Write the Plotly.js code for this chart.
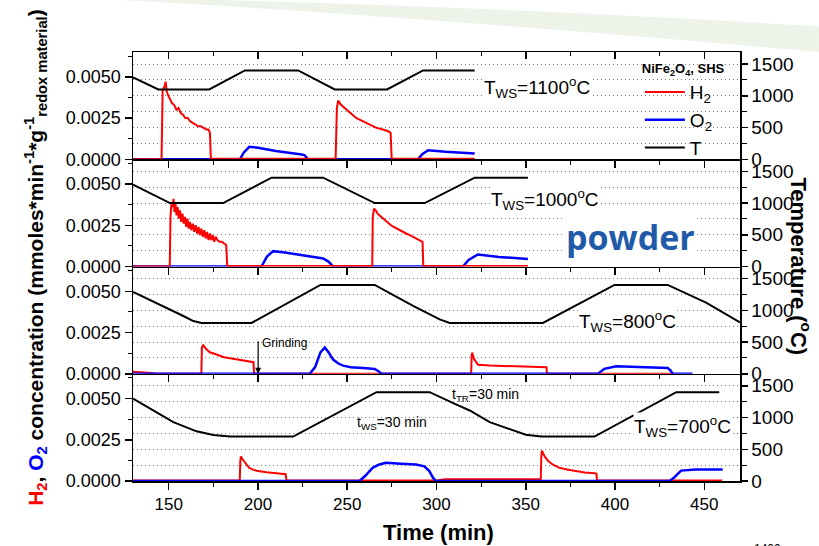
<!DOCTYPE html>
<html><head><meta charset="utf-8">
<script src="https://cdn.plot.ly/plotly-3.0.1.min.js"></script>
<style>html,body{margin:0;padding:0;background:#fff}</style>
</head><body>
<div id="chart" style="width:819px;height:546px"></div>
<script>
// ---------- data (time in min, concentration in mmol/min/g, temperature in °C) ----------
const panelLabels = ['T<sub>WS</sub>=1100<sup>o</sup>C','T<sub>WS</sub>=1000<sup>o</sup>C','T<sub>WS</sub>=800<sup>o</sup>C','T<sub>WS</sub>=700<sup>o</sup>C'];
const concTickText = ['0.0000','0.0025','0.0050'];

// Panel 1: T_WS = 1100 °C
const p1_T_t = [130, 144.2, 172.7, 192.7, 222.5, 243, 272.3, 292.5, 321.4];
const p1_T   = [1290, 1100, 1100, 1400, 1400, 1100, 1100, 1400, 1400];
const p1_H2_t = [130, 146.0, 146.6, 147.6, 148.3, 148.9, 149.6, 150.7, 151.8, 153.0, 154.3, 155.5, 156.8, 158.0, 159.3, 160.6, 162.0, 163.5, 165.0, 166.5, 168.0, 169.5, 171.0, 172.3, 173.1, 173.6, 243.5, 244.2, 244.9, 246.5, 248.5, 251.4, 255.0, 258.9, 262.5, 266.4, 270.0, 272.9, 274.3, 274.9, 321.4];
const p1_H2   = [0, 0, 0.0042, 0.0044, 0.0047, 0.0041, 0.0039, 0.0036, 0.0034, 0.0033, 0.0030, 0.0031, 0.0028, 0.0027, 0.0025, 0.0025, 0.0023, 0.0022, 0.0021, 0.0020, 0.0020, 0.0019, 0.0018, 0.0018, 0.0016, 0.00003, 0.00003, 0.0031, 0.00355, 0.0033, 0.0031, 0.0028, 0.0025, 0.0023, 0.0021, 0.0019, 0.0018, 0.0017, 0.0016, 0.00003, 0.00003];
const p1_O2_t = [130, 189.9, 192, 195.1, 200, 210, 223.5, 226, 228.1, 289.7, 292, 295.3, 305, 321.4];
const p1_O2   = [0, 0, 0.0004, 0.00075, 0.0007, 0.0005, 0.0003, 0.00025, 0, 0, 0.0003, 0.00055, 0.00045, 0.00035];

// Panel 2: T_WS = 1000 °C
const p2_T_t = [130, 150.7, 180.5, 207.6, 236.5, 265.4, 293.4, 321.4, 351.2];
const p2_T   = [1290, 1000, 1000, 1400, 1400, 1000, 1000, 1400, 1400];
const p2_H2_t = [130, 150.6, 151.0, 151.6, 152.2, 152.7, 153.2, 153.8, 154.4, 155.0, 155.6, 156.3, 157.0, 157.7, 158.4, 159.1, 159.8, 160.5, 161.2, 161.9, 162.7, 163.5, 164.3, 165.1, 165.9, 166.7, 167.5, 168.3, 169.1, 169.9, 170.7, 171.5, 172.3, 173.1, 173.9, 174.7, 175.5, 176.3, 177.3, 178.5, 179.7, 181.0, 182.2, 182.8, 264.0, 264.3, 265.0, 266.0, 267.0, 268.0, 269.0, 270.1, 271.5, 273.0, 274.5, 276.0, 277.6, 279.5, 281.5, 283.0, 285.0, 287.0, 289.0, 290.6, 292.2, 292.6, 351.2];
const p2_H2   = [0, 0, 0.0030, 0.0039, 0.0036, 0.0041, 0.0033, 0.0038, 0.0031, 0.0036, 0.0029, 0.0034, 0.0027, 0.0032, 0.0026, 0.0030, 0.0024, 0.0029, 0.0023, 0.0027, 0.0022, 0.0026, 0.0021, 0.0025, 0.0020, 0.0024, 0.0019, 0.0023, 0.0018, 0.0022, 0.0017, 0.0021, 0.0016, 0.0020, 0.0016, 0.0019, 0.0015, 0.0018, 0.0016, 0.0015, 0.0015, 0.0014, 0.0013, 0.00003, 0.00003, 0.0030, 0.0035, 0.0034, 0.0032, 0.0031, 0.0030, 0.0029, 0.0028, 0.0026, 0.0025, 0.0024, 0.0023, 0.0022, 0.0021, 0.0020, 0.0019, 0.0018, 0.0017, 0.0016, 0.0015, 0.00003, 0.00003];
const p2_O2_t = [130, 202, 205, 208.5, 215, 225, 236.5, 239.5, 242.1, 314.8, 318, 323.2, 335, 351.2];
const p2_O2   = [0, 0, 0.0006, 0.00093, 0.00085, 0.0007, 0.00049, 0.0003, 0, 0, 0.0004, 0.00073, 0.00058, 0.00045];

// Panel 3: T_WS = 800 °C
const p3_T_t = [130, 147, 158.2, 163.8, 168.4, 196.4, 235, 265.4, 286.9, 301.8, 307.4, 359.6, 399.7, 429.5, 451, 470];
const p3_T   = [1290, 1068, 910, 830, 800, 800, 1400, 1400, 1068, 857, 800, 800, 1400, 1400, 1122, 810];
const p3_H2_t = [130, 135, 140, 143, 168.3, 168.6, 169.3, 171, 173, 176.8, 181, 186.1, 191, 196.4, 197.5, 197.8, 319.4, 319.7, 320, 321, 323.2, 330, 340, 350, 360.5, 361.6, 361.9, 433];
const p3_H2   = [0.00012, 0.0001, 0.00005, 0, 0, 0.0016, 0.00173, 0.0015, 0.0013, 0.00117, 0.001, 0.00091, 0.0008, 0.0007, 0.0007, 0, 0, 0.0011, 0.00128, 0.0009, 0.00055, 0.0005, 0.00047, 0.00043, 0.00039, 0.00039, 0, 0];
const p3_O2_t = [130, 229, 232, 235, 237.4, 239.5, 242.1, 245, 247.7, 252, 258.9, 265.4, 267.5, 269.2, 390.4, 394, 400.7, 415, 429.5, 431, 432.3, 443.4];
const p3_O2   = [0, 0, 0.0004, 0.0013, 0.00159, 0.0013, 0.00086, 0.00062, 0.00049, 0.0004, 0.00035, 0.00029, 0.00015, 0, 0, 0.0003, 0.00045, 0.0004, 0.00035, 0.0002, 0, 0];

// Panel 4: T_WS = 700 °C
const p4_T_t = [130, 140, 152.6, 165.6, 175, 184.3, 219.7, 266.4, 296.2, 310, 318.6, 329.8, 342.8, 350, 358.7, 388.5, 434.3, 458.4];
const p4_T   = [1298, 1134, 927, 783, 725, 700, 700, 1400, 1400, 1220, 1111, 927, 793, 730, 700, 700, 1400, 1400];
const p4_H2_t = [130, 189.8, 190.1, 190.4, 191.5, 192.7, 195, 197.3, 200, 204.8, 209, 213.2, 215.5, 216, 300, 305, 340, 358.4, 358.7, 359, 360.5, 362.4, 365, 368.9, 373, 378.3, 383, 388.5, 389.6, 389.9, 460];
const p4_H2   = [0.00003, 0.00003, 0.0012, 0.00149, 0.0013, 0.0011, 0.0008, 0.00069, 0.0006, 0.00053, 0.00048, 0.00043, 0.00041, 0.00003, 0.00003, 0.0001, 0.0001, 0.0001, 0.0015, 0.00184, 0.0015, 0.00123, 0.001, 0.0008, 0.0007, 0.00059, 0.00052, 0.00047, 0.00045, 0.00003, 0.00003];
const p4_O2_t = [130, 256.8, 260, 264.2, 268, 271.7, 280, 288.5, 293.2, 296, 298, 299.7, 430.5, 433, 437, 445, 460.3];
const p4_O2   = [0, 0, 0.0003, 0.0008, 0.001, 0.0011, 0.00105, 0.001, 0.00089, 0.0006, 0.0002, 0, 0, 0.0002, 0.00063, 0.00069, 0.00069];

// ---------- build ----------
const panels = [
  {Tt:p1_T_t, T:p1_T, Ht:p1_H2_t, H:p1_H2, Ot:p1_O2_t, O:p1_O2, redTop:true},
  {Tt:p2_T_t, T:p2_T, Ht:p2_H2_t, H:p2_H2, Ot:p2_O2_t, O:p2_O2, redTop:true},
  {Tt:p3_T_t, T:p3_T, Ht:p3_H2_t, H:p3_H2, Ot:p3_O2_t, O:p3_O2, redTop:false},
  {Tt:p4_T_t, T:p4_T, Ht:p4_H2_t, H:p4_H2, Ot:p4_O2_t, O:p4_O2, redTop:false}
];
const F = 'Liberation Sans, Arial, sans-serif';
const GRID = '#7a7a7a';
const traces = [];
const layout = {
  width:819, height:546,
  margin:{l:133, r:79, t:52, b:65},
  paper_bgcolor:'#ffffff', plot_bgcolor:'#ffffff',
  font:{family:F, color:'#000', size:16},
  showlegend:true,
  legend:{x:0.835, y:0.99, xanchor:'left', yanchor:'top', bgcolor:'rgba(0,0,0,0)',
          font:{family:F, size:19, color:'#000'}, tracegroupgap:0, itemwidth:40,
          title:{text:'<b>NiFe<sub>2</sub>O<sub>4</sub>, SHS</b>', font:{family:F, size:13}, side:'top'}},
  shapes:[
    {type:'path', xref:'paper', yref:'paper', layer:'below',
     path:'M -0.02,1.121 Q 0.45,1.085 1.13,1.0 L 1.13,1.06 Q 0.6,1.105 0.15,1.121 Z',
     fillcolor:'rgba(200,214,186,0.3)', line:{width:0}}
  ],
  annotations:[]
};

panels.forEach((p, i) => {
  const n = i + 1;
  const xs = n === 1 ? 'x' : 'x' + n;
  const ys = n === 1 ? 'y' : 'y' + n;
  const yr = 'y' + (n + 4);
  const legend = n === 1;
  const h2 = {x:p.Ht, y:p.H, xaxis:xs, yaxis:ys, type:'scatter', mode:'lines', name:'H<sub>2</sub>',
              line:{color:'#ff0000', width:2}, showlegend:legend, legendrank:1};
  const o2 = {x:p.Ot, y:p.O, xaxis:xs, yaxis:ys, type:'scatter', mode:'lines', name:'O<sub>2</sub>',
              line:{color:'#0000ff', width:2.5}, showlegend:legend, legendrank:2};
  if (p.redTop) { traces.push(o2, h2); } else { traces.push(h2, o2); }
  traces.push({x:p.Tt, y:p.T, xaxis:xs, yaxis:yr, type:'scatter', mode:'lines', name:'T',
               line:{color:'#000', width:2}, showlegend:legend, legendrank:3});

  const dom = [(4 - n) * 0.25, (5 - n) * 0.25];
  layout[n === 1 ? 'xaxis' : 'xaxis' + n] = {
    domain:[0,1], anchor:ys, range:[130,470], tickmode:'linear', tick0:150, dtick:50,
    ticks:'outside', ticklen:7, tickwidth:1.5, tickcolor:'#000',
    minor:{dtick:25, ticks:'outside', ticklen:4, tickwidth:1, tickcolor:'#000'},
    showline:true, linewidth:1.5, linecolor:'#000', showgrid:false, zeroline:false,
    showticklabels:n === 4, tickfont:{family:F, size:17}
  };
  layout[n === 1 ? 'yaxis' : 'yaxis' + n] = {
    domain:dom, anchor:xs, range:[0,0.0065], tickmode:'array', tickvals:[0,0.0025,0.005], ticktext:concTickText,
    ticks:'outside', ticklen:7, tickwidth:1.5, tickcolor:'#000',
    minor:{dtick:0.00125, ticks:'outside', ticklen:4, tickwidth:1, tickcolor:'#000'},
    showline:true, linewidth:1.5, linecolor:'#000', showgrid:false, zeroline:false,
    tickfont:{family:F, size:18}
  };
  layout['yaxis' + (n + 4)] = {
    overlaying:ys, side:'right', anchor:xs, range:[0,1690], tickmode:'linear', tick0:0, dtick:500,
    ticks:'outside', ticklen:6, tickwidth:1.5, tickcolor:'#000',
    showgrid:true, gridcolor:GRID, griddash:'1px,3px', gridwidth:1,
    minor:{dtick:250, ticks:'outside', ticklen:5, tickwidth:1, tickcolor:'#000', showgrid:true, gridcolor:GRID, griddash:'1px,3px', gridwidth:1},
    showline:true, linewidth:1.5, linecolor:'#000', zeroline:false,
    tickfont:{family:F, size:19}
  };
});

// top frame of the first panel (ticks pointing in)
layout.xaxis5 = {overlaying:'x', side:'top', anchor:'y', range:[130,470], tickmode:'linear', tick0:150, dtick:50,
  ticks:'inside', ticklen:7, tickwidth:1.5, tickcolor:'#000',
  minor:{dtick:25, ticks:'inside', ticklen:4, tickwidth:1, tickcolor:'#000'},
  showline:true, linewidth:1.5, linecolor:'#000', showgrid:false, zeroline:false, showticklabels:false};
traces.push({x:[], y:[], xaxis:'x5', yaxis:'y', type:'scatter', mode:'lines', showlegend:false, hoverinfo:'skip'});

const A = layout.annotations;
// axis titles
A.push({xref:'paper', yref:'paper', x:-0.160, y:0.52, textangle:-90, showarrow:false, xanchor:'center', yanchor:'middle',
  text:'<b><span style="color:#ff0000">H<sub>2</sub></span>, <span style="color:#0000ff">O<sub>2</sub></span> concentration (mmoles*min<sup>-1</sup>*g<sup>-1</sup><sub>redox material</sub>)</b>',
  font:{family:F, size:21, color:'#000'}});
A.push({xref:'paper', yref:'paper', x:1.1005, y:0.50, textangle:90, showarrow:false, xanchor:'center', yanchor:'middle',
  text:'<b>Temperature (<sup>o</sup>C)</b>', font:{family:F, size:22, color:'#000'}});
A.push({xref:'paper', yref:'paper', x:0.5025, y:-0.119, showarrow:false, xanchor:'center', yanchor:'middle',
  text:'<b>Time (min)</b>', font:{family:F, size:22, color:'#000'}});
A.push({xref:'paper', yref:'paper', x:1.046, y:-0.158, showarrow:false, xanchor:'center', yanchor:'middle',
  text:'1400', font:{family:F, size:12, color:'#000'}});

// panel labels
const labelPos = [[325.9, 1127], [329.8, 1060], [379, 825], [409.8, 852]];
panelLabels.forEach((t, i) => {
  const n = i + 1;
  A.push({xref:n === 1 ? 'x' : 'x' + n, yref:'y' + (n + 4), x:labelPos[i][0], y:labelPos[i][1],
    xanchor:'left', yanchor:'middle', showarrow:false, text:t, bgcolor:'#ffffff', borderpad:0,
    font:{family:F, size:19, color:'#000'}});
});
A.push({xref:'x2', yref:'y6', x:408.7, y:459, xanchor:'center', yanchor:'middle', showarrow:false,
  text:'<b>powder</b>', bgcolor:'#ffffff', font:{family:'Open Sans, Noto Sans, sans-serif', size:34, color:'#1f5ba8'}});
A.push({xref:'x4', yref:'y8', x:307.4, y:1361, xanchor:'left', yanchor:'middle', showarrow:false,
  text:'t<sub>TR</sub>=30 min', font:{family:F, size:14, color:'#000'}});
A.push({xref:'x4', yref:'y8', x:254.2, y:916, xanchor:'left', yanchor:'middle', showarrow:false,
  text:'t<sub>WS</sub>=30 min', font:{family:F, size:14, color:'#000'}});
A.push({xref:'x3', yref:'y3', x:200.1, y:0, ax:0, ay:-34, showarrow:true, arrowhead:2, arrowsize:1, arrowwidth:1.2,
  arrowcolor:'#000', text:''});
A.push({xref:'x3', yref:'y3', x:201.3, y:0.00185, xanchor:'left', yanchor:'middle', showarrow:false,
  text:'Grinding', font:{family:F, size:12, color:'#000'}});

Plotly.newPlot('chart', traces, layout, {displayModeBar:false, staticPlot:true});
</script>
</body></html>
